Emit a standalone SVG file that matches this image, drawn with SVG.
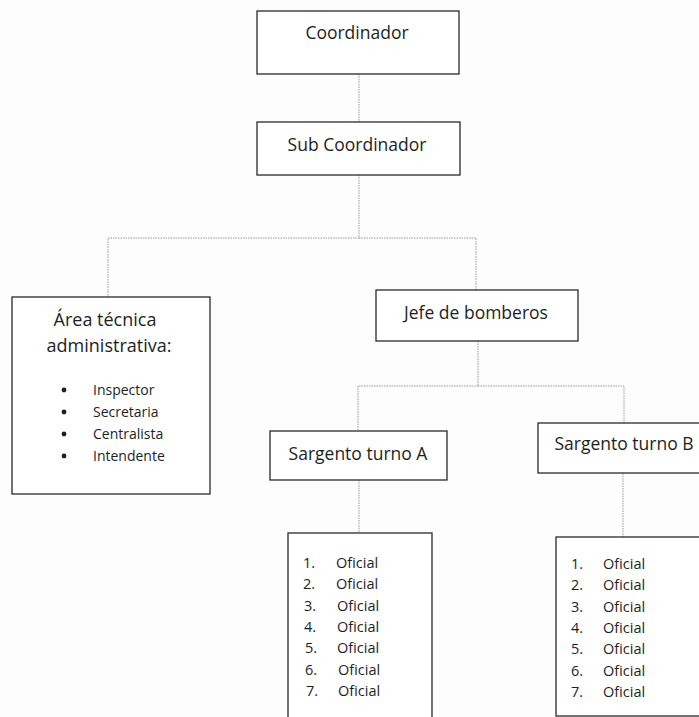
<svg xmlns="http://www.w3.org/2000/svg" width="699" height="717" viewBox="0 0 699 717">
<style>
.box{fill:#fff;stroke:#2a2a2a;stroke-width:1.3}
.t{font-family:"Open Sans","Noto Sans",sans-serif;font-size:17.5px;fill:#1e1e1e;text-anchor:middle}
.s{font-family:"Open Sans","Noto Sans",sans-serif;font-size:14px;fill:#1e1e1e}
.o{font-family:"Open Sans","Noto Sans",sans-serif;font-size:14.5px;fill:#1e1e1e}
.c{fill:none;stroke:#9a9a9a;stroke-width:1;stroke-dasharray:1.5 1}
</style>
<rect width="699" height="717" fill="#fdfdfd"/>
<g id="connectors">
<path class="c" d="M359 74V122"/>
<path class="c" d="M359 175V238H108V297M359 238H476V290"/>
<path class="c" d="M478 341V386H358V431M478 386H624V423"/>
<path class="c" d="M359 480V533"/>
<path class="c" d="M623 473V537"/>
</g>
<g id="coordinador">
<rect class="box" x="257" y="11" width="202" height="63"/>
<text class="t" x="357" y="39">Coordinador</text>
</g>
<g id="sub-coordinador">
<rect class="box" x="257" y="122" width="203" height="53"/>
<text class="t" x="357" y="151">Sub Coordinador</text>
</g>
<g id="area-tecnica">
<rect class="box" x="12" y="297" width="198" height="197"/>
<text class="t" x="105" y="326" style="font-size:18px">Área técnica</text>
<text class="t" x="109" y="352" style="font-size:18px">administrativa:</text>
<g fill="#1e1e1e">
<circle cx="64" cy="390" r="2.4"/>
<circle cx="64" cy="412" r="2.4"/>
<circle cx="64" cy="434" r="2.4"/>
<circle cx="64" cy="456" r="2.4"/>
</g>
<text class="s" x="93" y="395">Inspector</text>
<text class="s" x="93" y="417">Secretaria</text>
<text class="s" x="93" y="439">Centralista</text>
<text class="s" x="93" y="461">Intendente</text>
</g>
<g id="jefe">
<rect class="box" x="376" y="290" width="202" height="51"/>
<text class="t" x="476" y="319">Jefe de bomberos</text>
</g>
<g id="sargento-a">
<rect class="box" x="270" y="431" width="177" height="49"/>
<text class="t" x="358" y="460">Sargento turno A</text>
</g>
<g id="sargento-b">
<rect class="box" x="538" y="423" width="164" height="50"/>
<text class="t" x="624" y="450">Sargento turno B</text>
</g>
<g id="oficiales-a">
<rect class="box" x="288" y="533" width="144" height="190"/>
<g class="o">
<text x="303" y="568">1.</text><text x="336" y="568">Oficial</text>
<text x="303" y="589">2.</text><text x="336" y="589">Oficial</text>
<text x="304" y="611">3.</text><text x="337" y="611">Oficial</text>
<text x="304" y="632">4.</text><text x="337" y="632">Oficial</text>
<text x="305" y="653">5.</text><text x="337" y="653">Oficial</text>
<text x="305" y="675">6.</text><text x="338" y="675">Oficial</text>
<text x="306" y="696">7.</text><text x="338" y="696">Oficial</text>
</g>
</g>
<g id="oficiales-b">
<rect class="box" x="556" y="537" width="146" height="179"/>
<g class="o">
<text x="571" y="569">1.</text><text x="603" y="569">Oficial</text>
<text x="571" y="590">2.</text><text x="603" y="590">Oficial</text>
<text x="571" y="612">3.</text><text x="603" y="612">Oficial</text>
<text x="571" y="633">4.</text><text x="603" y="633">Oficial</text>
<text x="571" y="654">5.</text><text x="603" y="654">Oficial</text>
<text x="571" y="676">6.</text><text x="603" y="676">Oficial</text>
<text x="571" y="697">7.</text><text x="603" y="697">Oficial</text>
</g>
</g>
</svg>
